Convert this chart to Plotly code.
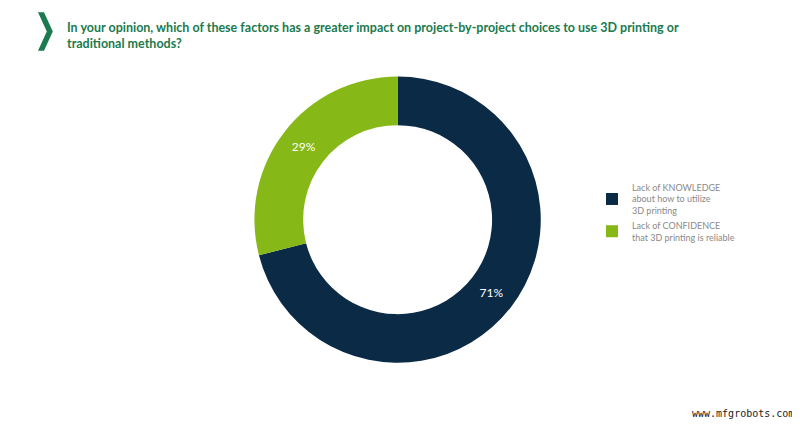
import plotly.graph_objects as go

labels = ["Lack of KNOWLEDGE<br>about how to utilize<br>3D printing", "Lack of CONFIDENCE<br>that 3D printing is reliable"]
values = [71, 29]
colors = ["#0b2a45", "#86b817"]

fig = go.Figure(go.Pie(
    labels=labels, values=values, hole=0.66, sort=False, direction="clockwise", rotation=0,
    marker=dict(colors=colors, line=dict(width=0)),
    textinfo="percent", texttemplate="%{percent:.0%}", textposition="inside",
    insidetextfont=dict(color="white", size=12, family="Lato"),
    domain=dict(x=[0.289, 0.685], y=[0.171, 0.840]),
))
fig.update_layout(
    width=800, height=428, margin=dict(l=0, r=0, t=0, b=0), autosize=False,
    paper_bgcolor="white", plot_bgcolor="white",
    legend=dict(x=0.73, y=0.61, xanchor="left", yanchor="top",
                font=dict(size=9, color="#8a8a8a", family="Lato"), tracegroupgap=2),
    annotations=[
        dict(text="<b>In your opinion, which of these factors has a greater impact on project-by-project choices to use 3D printing or<br>traditional methods?</b>",
             x=57/800, y=1-10/428, xref="paper", yref="paper", xanchor="left", yanchor="top",
             showarrow=False, align="left", font=dict(size=12.5, color="#1b7a4e", family="Lato")),
        dict(text="www.mfgrobots.com", x=0.985, y=0.035, xref="paper", yref="paper",
             xanchor="right", yanchor="bottom", showarrow=False,
             font=dict(size=10, color="#222", family="DejaVu Sans Mono")),
    ],
    shapes=[dict(type="path", xref="paper", yref="paper",
                 path="M 0.0375 0.99 L 0.045 0.99 L 0.056 0.945 L 0.045 0.90 L 0.0375 0.90 L 0.0485 0.945 Z",
                 fillcolor="#1b7a4e", line=dict(width=0))],
)
fig.write_html("out.html")
